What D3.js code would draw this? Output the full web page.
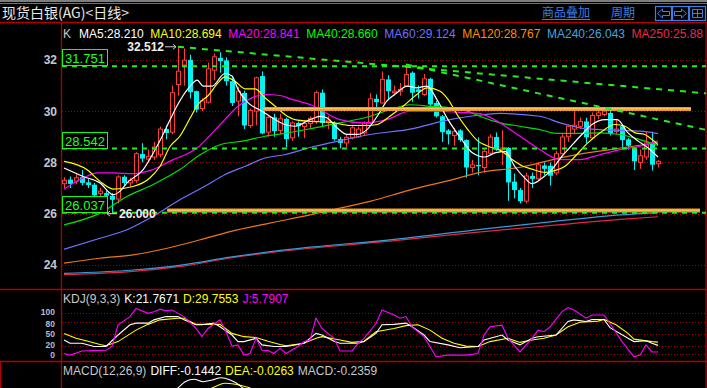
<!DOCTYPE html>
<html><head><meta charset="utf-8">
<script src="https://cdn.jsdelivr.net/npm/d3@7"></script>
<style>body{margin:0;background:#000;}svg{display:block;}</style>
</head><body><svg id="c" width="707" height="388"></svg>
<script>
// ---------- DATA ----------
const candleOpen = [27.17,27.33,27.27,27.42,27.22,27.13,26.78,26.8,26.7,26.57,
27.44,27.2,27.3,28.33,28.13,28.21,28.3,29.3,29.18,31.04,
31.8,32.0,30.78,30.1,30.35,31.6,32.08,31.98,31.17,30.39,
30.71,29.44,30.0,31.37,29.18,29.76,29.25,29.7,28.96,29.54,
29.4,29.52,29.6,30.72,29.55,29.54,28.91,28.76,28.96,29.0,
29.15,29.54,30.48,30.32,31.24,30.72,30.78,30.98,31.5,30.85,
30.65,31.26,30.32,29.8,29.25,29.05,29.25,28.87,27.8,27.9,
27.8,28.36,28.99,28.5,28.57,27.25,26.92,26.49,27.47,27.36,
27.88,27.87,27.59,28.34,29.0,29.3,29.41,29.6,28.96,29.83,
29.87,29.93,29.2,29.41,28.9,28.57,28.0,28.21,28.76,27.95];
const candleClose = [27.30,27.16,27.40,27.20,27.12,26.72,26.88,26.7,26.54,27.43,
27.2,27.3,28.34,28.15,28.24,28.6,29.3,29.15,30.72,31.56,
31.99,30.74,30.06,30.4,31.65,32.12,31.95,31.17,30.32,30.78,
29.44,30.03,31.3,29.13,29.76,29.22,29.7,28.91,29.54,29.41,
29.52,29.72,30.72,29.54,29.65,28.91,28.76,28.98,29.35,29.3,
29.54,30.48,30.35,31.24,30.78,30.78,30.85,31.43,30.72,30.75,
31.26,30.26,29.8,29.18,29.1,29.2,28.87,27.8,27.9,27.85,
28.43,28.99,28.5,28.56,27.22,26.92,26.49,27.47,27.36,27.9,
27.75,27.48,28.34,28.99,29.41,29.45,29.6,28.98,29.83,29.93,
30.0,29.13,29.3,28.87,28.65,28.04,28.26,28.76,27.91,28.04];
const candleHigh = [27.42,27.45,27.55,27.70,27.35,27.2,27.0,26.9,26.8,27.5,
27.5,27.4,28.4,28.75,28.5,28.8,29.4,29.45,31.0,32.512,
32.45,32.2,30.8,30.5,31.9,32.25,32.3,32.1,31.3,30.95,
30.8,30.1,31.35,31.55,29.85,29.9,29.9,29.75,29.6,29.6,
29.65,29.8,30.8,30.85,29.8,29.6,29.0,29.1,29.45,29.4,
29.6,30.7,30.65,31.55,31.4,31.0,31.1,31.76,31.55,31.0,
31.45,31.3,30.4,29.85,29.3,29.35,29.3,28.9,28.1,28.98,
28.5,29.1,29.17,29.25,28.6,27.57,27.0,27.6,27.6,28.0,
28.0,28.0,28.45,29.1,29.45,30.0,29.75,29.75,29.95,30.15,
30.05,30.0,29.7,29.45,28.95,28.6,28.5,29.2,29.2,28.1];
const candleLow = [27.0,27.0,27.15,27.1,27.0,26.65,26.65,26.55,26.0,26.4,
27.1,27.05,27.2,28.0,28.0,28.1,28.2,28.9,29.1,30.6,
31.0,30.5,29.95,30.0,30.3,31.2,31.5,31.0,30.2,29.8,
29.3,29.35,29.45,29.1,29.0,29.0,29.1,28.6,28.85,29.0,
28.95,29.3,29.5,29.4,29.3,28.85,28.55,28.6,28.9,28.95,
29.05,29.5,30.1,30.3,30.45,30.6,30.6,30.95,30.35,30.5,
30.6,30.2,29.75,28.8,28.7,28.65,28.8,27.4,27.6,27.5,
27.6,28.3,28.45,27.9,26.5,26.6,26.4,26.4,27.0,27.3,
27.5,27.1,27.5,28.3,28.8,29.1,29.3,28.75,28.9,29.7,
29.8,29.05,29.1,28.6,28.5,27.7,27.75,28.1,27.68,27.8];

// moving averages: [candle index, price]
const ma5 = [[0,27.78],[3.2,27.45],[6,27.2],[8.2,26.74],[9.3,26.87],[10.5,27.2],[13.2,27.72],[15.5,28.63],[17.7,29.67],[18.8,30.19],[21,30.97],[22.2,31.21],[23.2,30.98],[24.7,30.98],[26.8,31.47],[28,31.37],[29,30.85],[30.7,30.32],[33,30.0],[34.7,29.74],[36.8,29.48],[38.5,29.41],[41,29.67],[42.7,29.8],[43.8,29.74],[45.5,29.35],[47.2,29.09],[48.8,29.09],[50.5,29.28],[52.2,29.8],[53.8,30.39],[55.5,30.72],[57.2,30.98],[58.8,30.91],[60.5,30.98],[62.3,30.39],[64,29.67],[66.3,28.89],[68,28.39],[70.2,28.21],[71.8,28.37],[73.5,28.43],[75.2,27.82],[76.8,27.39],[78,27.17],[79.7,27.39],[81.3,27.72],[83,28.24],[84,28.5],[86.3,29.09],[88,29.48],[90.2,29.67],[92.2,29.67],[94,29.15],[95.7,28.83],[97.3,28.57],[99,28.21]];
const ma10 = [[0,28.04],[3.8,27.72],[6,27.26],[8.2,26.96],[11.5,27.06],[14.3,27.39],[16,27.85],[17.7,28.63],[19.3,29.02],[21,29.72],[22.3,30.26],[24,30.6],[25.7,31.11],[26.8,31.34],[28.5,31.17],[30.2,30.87],[31.8,30.87],[33.5,30.52],[35.2,30.19],[36.8,29.87],[38.5,29.67],[41.3,29.6],[44.3,29.57],[47.7,29.44],[50.5,29.44],[52.2,29.48],[54.3,29.8],[56.5,30.19],[58.8,30.65],[60.5,30.91],[62.7,30.78],[64,30.46],[65.7,29.8],[67.3,29.28],[69,28.83],[70.7,28.63],[73,28.43],[74.7,28.11],[76.3,27.87],[78,27.74],[80.2,27.61],[81.8,27.68],[83.5,27.85],[85.2,28.24],[87.3,28.76],[89.7,29.22],[91.8,29.48],[93.5,29.41],[95.2,29.15],[96.8,29.09],[98,28.89],[99,28.694]];
const ma20 = [[0,26.96],[3.2,27.39],[5.5,27.59],[8.2,27.59],[11.5,27.56],[14.8,27.72],[18.2,28.11],[20.2,28.3],[22.2,28.56],[23.5,28.85],[26.8,29.67],[29,30.19],[31.3,30.52],[33.5,30.65],[36,30.61],[38,30.46],[41,30.26],[46,29.67],[49.8,29.54],[53.8,29.67],[57.7,30.0],[61.5,30.0],[66,29.95],[69.3,29.9],[72.7,29.54],[76,29.02],[79.3,28.5],[82.7,28.11],[86,28.11],[89.3,28.3],[92.7,28.5],[96,28.63],[99,28.841]];
const ma40 = [[0,25.56],[6,26.02],[10.5,26.67],[14.8,27.13],[19.3,27.72],[22.7,28.3],[26,28.69],[29.7,28.83],[33.5,29.02],[36.8,29.13],[41.8,29.35],[46,29.54],[51,29.8],[54.3,30.06],[57.7,30.25],[61,30.19],[64.3,30.13],[67.7,29.96],[69.3,29.8],[72.7,29.54],[76,29.41],[79.3,29.28],[82.2,29.13],[86,29.13],[89.3,29.15],[92.7,29.09],[96,28.89],[99,28.66]];
const ma60 = [[0,24.61],[6,25.04],[10.5,25.37],[14.8,25.89],[19.3,26.54],[23.7,27.1],[26.8,27.52],[30.2,27.85],[33.5,28.17],[36.8,28.3],[41.8,28.63],[44.3,28.76],[51,29.09],[57.7,29.3],[64.3,29.67],[67.7,29.8],[72.7,29.91],[79.3,29.8],[82.7,29.54],[86,29.35],[89.3,29.28],[92.7,29.25],[96,29.22],[99,29.124]];
const ma120 = [[0,24.07],[6,24.26],[11.5,24.39],[17.2,24.65],[22.7,24.98],[27.7,25.3],[34.3,25.63],[41,25.95],[46,26.22],[51,26.48],[57.7,26.93],[64.3,27.3],[69,27.59],[76.3,27.82],[82.7,28.18],[91,28.5],[99,28.767]];
const ma240 = [[0,23.67],[11.5,23.8],[19.8,24.0],[27.7,24.3],[41,24.69],[54.3,24.98],[67.7,25.34],[81.8,25.7],[92.7,25.95],[99,26.043]];
const ma250 = [[0,23.62],[11.5,23.75],[19.8,23.95],[27.7,24.27],[41,24.65],[54.3,24.93],[67.7,25.25],[81.8,25.55],[92.7,25.78],[99,25.88]];

const maLabels = ["MA5:28.210","MA10:28.694","MA20:28.841","MA40:28.660","MA60:29.124","MA120:28.767","MA240:26.043","MA250:25.88"];
const priceTicks = [32,30,28,26,24];
const markedLevels = [31.751,28.542,26.037];
const bandLines = [[33.2,104.5,30.08],[17.2,106,26.12]];      // [from idx, to idx, price]
const trendLines = [[19,32.512,107.2,30.69],[57,31.82,107.2,29.26]]; // [idx0,p0,idx1,p1]
const highMark = [19,32.512], lowMark = [8,26.0];

// KDJ: [candle index, value]
const kdjK = [[0,35],[1,27],[3,27],[5,19],[7,19],[9,47],[11,72],[12,76],[14,76],[15,84],[17,92],[19,92],[20,84],[22,72],[23,72],[25,76],[26,67],[28,47],[29,31],[30,31],[32,39],[33,23],[35,19],[37,19],[39,24],[40,27],[42,51],[43,47],[45,32],[46,27],[49,27],[50,31],[52,51],[53,72],[55,73],[57,76],[58,67],[60,47],[61,31],[64,23],[66,16],[69,19],[70,35],[73,47],[74,35],[76,23],[78,39],[79,43],[82,47],[84,80],[85,84],[87,80],[88,85],[90,85],[91,65],[94,39],[95,31],[97,33],[98,27],[99,21.77]];
const kdjD = [[0,51],[2,39],[4,32],[6,24],[7,21],[9,31],[12,59],[14,73],[16,84],[19,88],[20,88],[22,73],[25,73],[26,73],[28,51],[30,43],[32,41],[34,32],[36,24],[37,21],[40,27],[42,39],[43,43],[46,35],[48,29],[50,32],[52,55],[55,63],[57,70],[59,72],[61,59],[63,39],[65,27],[67,20],[69,19],[71,31],[74,39],[76,29],[78,35],[80,39],[82,47],[84,67],[86,78],[89,81],[90,85],[92,72],[94,51],[95,37],[98,31],[99,29.76]];
const kdjJ = [[0,2],[1,-2],[3,8],[5,9],[7,10],[8,19],[9,72],[11,92],[12,112],[14,100],[15,104],[16,110],[17,106],[18,108],[20,92],[22,63],[23,43],[24,63],[26,84],[27,55],[28,20],[29,23],[30,-2],[31,2],[32,39],[33,10],[34,9],[35,2],[36,15],[37,2],[39,19],[40,31],[41,35],[42,88],[43,63],[45,39],[46,8],[48,8],[49,27],[50,39],[52,75],[53,108],[55,96],[56,88],[57,92],[58,67],[60,43],[61,19],[62,-6],[64,-2],[66,-2],[67,-2],[69,2],[70,47],[71,67],[73,71],[74,39],[76,6],[78,39],[79,59],[80,55],[81,67],[83,104],[84,114],[85,108],[87,88],[88,96],[90,96],[91,75],[93,31],[95,-6],[96,-2],[97,23],[98,6],[99,5.79]];
const kdjTicks = [100,80,50,20,0];

// MACD (only the tops of the curves are visible)
const macdDiff = [[17,0.2],[19,0.40],[20.2,0.526],[21.7,0.574],[23.2,0.526],[24.7,0.56],[26.2,0.606],[27.7,0.56],[29.2,0.46],[29.8,0.40],[32,0.2]];
const macdDea = [[22,0.2],[24.7,0.40],[25.8,0.46],[26.8,0.494],[28.3,0.48],[30.3,0.426],[31,0.40],[33,0.2]];

// ---------- DRAW ----------
const W = 707, H = 388;
const svg = d3.select('#c');
const red = '#b00000', dotRed = '#a00000';
const FONT = "'Liberation Sans', Arial, sans-serif";
const CJK = "'Noto Sans CJK SC', sans-serif";
svg.append('rect').attr('width', W).attr('height', H).attr('fill', '#000');

const x = d3.scaleLinear().domain([0, 99]).range([64, 658]);
const y = d3.scaleLinear().domain([24, 32]).range([264.9, 59.9]);
const yk = d3.scaleLinear().domain([0, 100]).range([354.3, 313.3]);
const ym = d3.scaleLinear().domain([0.4, 0.6]).range([388, 378]);

const defs = svg.append('defs');
defs.append('clipPath').attr('id', 'cp').append('rect').attr('x', 62).attr('y', 23).attr('width', 644).attr('height', 266);
defs.append('clipPath').attr('id', 'ck').append('rect').attr('x', 62).attr('y', 290).attr('width', 644).attr('height', 71);
defs.append('clipPath').attr('id', 'cm').append('rect').attr('x', 62).attr('y', 362).attr('width', 644).attr('height', 26);

// top bar
svg.append('line').attr('x1', 0).attr('x2', W).attr('y1', 1).attr('y2', 1).attr('stroke', '#a8a8a8').attr('stroke-width', 1.5);
svg.append('line').attr('x1', 0).attr('x2', W).attr('y1', 3.5).attr('y2', 3.5).attr('stroke', '#707070').attr('stroke-width', 1);
svg.append('text').attr('x', 2).attr('y', 18).attr('fill', '#e8e8e8').attr('font-family', CJK).attr('font-size', 14).text('现货白银(AG)<日线>');
const blue = '#3d7fe0';
[['商品叠加', 542, 590], ['周期', 611, 634]].forEach(([t, x0, x1]) => {
  svg.append('text').attr('x', x0).attr('y', 17).attr('fill', blue).attr('font-family', CJK).attr('font-size', 12).text(t);
  svg.append('line').attr('x1', x0).attr('x2', x1).attr('y1', 19.5).attr('y2', 19.5).attr('stroke', blue);
});
[655.5, 672.5, 689.5].forEach((bx, k) => {
  svg.append('rect').attr('x', bx).attr('y', 6.5).attr('width', 16).attr('height', 14).attr('fill', 'none').attr('stroke', blue).attr('stroke-width', 1.2);
  if (k === 0) svg.append('path').attr('d', `M${bx+2},13.5 L${bx+7},9 L${bx+7},11.5 L${bx+14},11.5 L${bx+14},15.5 L${bx+7},15.5 L${bx+7},18 Z`).attr('fill', 'none').attr('stroke', blue);
  if (k === 1) svg.append('path').attr('d', `M${bx+14},13.5 L${bx+9},9 L${bx+9},11.5 L${bx+2},11.5 L${bx+2},15.5 L${bx+9},15.5 L${bx+9},18 Z`).attr('fill', 'none').attr('stroke', blue);
  if (k === 2) svg.append('path').attr('d', `M${bx+3},9.5 H${bx+13} V17.5 H${bx+3} Z M${bx+3},13.5 H${bx+13} M${bx+8},9.5 V17.5`).attr('fill', 'none').attr('stroke', blue);
});

// frame
const frame = [[0, 22.5, W, 22.5], [0, 289.5, W, 289.5], [0, 361.5, W, 361.5], [61.5, 22.5, 61.5, H], [706, 22.5, 706, H], [0.5, 361.5, 0.5, H]];
frame.forEach(([a, b, c, d]) => svg.append('line').attr('x1', a).attr('y1', b).attr('x2', c).attr('y2', d).attr('stroke', red).attr('stroke-width', 1.3));

// price grid + labels
priceTicks.forEach(p => {
  svg.append('line').attr('x1', 62).attr('x2', 706).attr('y1', Math.round(y(p)) + 0.5).attr('y2', Math.round(y(p)) + 0.5)
    .attr('stroke', dotRed).attr('stroke-dasharray', '1,2');
  svg.append('text').attr('x', 57).attr('y', y(p) + 4.5).attr('text-anchor', 'end').attr('fill', '#c4c8d4')
    .attr('font-family', FONT).attr('font-weight', 'bold').attr('font-size', 12).text(p);
});

// candles
const pg = svg.append('g').attr('clip-path', 'url(#cp)');
const idx = d3.range(candleOpen.length);
const isUp = i => candleClose[i] >= candleOpen[i];
const upC = '#ff3c3c', dnC = '#00f4f4';
pg.selectAll('line.wick').data(idx).join('line').attr('class', 'wick')
  .attr('x1', i => Math.round(x(i)) + 0.5).attr('x2', i => Math.round(x(i)) + 0.5)
  .attr('y1', i => y(candleHigh[i])).attr('y2', i => y(candleLow[i]))
  .attr('stroke', i => isUp(i) ? upC : dnC).attr('stroke-width', 1);
pg.selectAll('rect.body').data(idx).join('rect').attr('class', 'body')
  .attr('x', i => Math.round(x(i)) - (isUp(i) ? 1.5 : 2))
  .attr('width', i => isUp(i) ? 4 : 5)
  .attr('y', i => y(Math.max(candleOpen[i], candleClose[i])))
  .attr('height', i => Math.max(1.2, Math.abs(y(candleOpen[i]) - y(candleClose[i]))))
  .attr('fill', i => isUp(i) ? '#000' : dnC)
  .attr('stroke', i => isUp(i) ? upC : 'none').attr('stroke-width', 1);

// MA lines
const maSeries = [[ma250, '#e0284a'], [ma240, '#3a9ad8'], [ma120, '#e8781c'], [ma60, '#7272ff'], [ma40, '#00e000'], [ma20, '#ff00ff'], [ma10, '#ffff00'], [ma5, '#ffffff']];
const lineP = d3.line().x(d => x(d[0])).y(d => y(d[1])).curve(d3.curveMonotoneX);
maSeries.forEach(([s, c]) => pg.append('path').attr('d', lineP(s)).attr('fill', 'none').attr('stroke', c).attr('stroke-width', 1.2));

// horizontal support bands
bandLines.forEach(([a, b, p]) => {
  pg.append('line').attr('x1', x(a)).attr('x2', x(b)).attr('y1', y(p)).attr('y2', y(p)).attr('stroke', '#e89a2c').attr('stroke-width', 4);
  pg.append('line').attr('x1', x(a)).attr('x2', x(b)).attr('y1', y(p) - 0.5).attr('y2', y(p) - 0.5).attr('stroke', '#ffc060').attr('stroke-width', 1.2);
});

// green dashed levels & trend lines
const gDash = '#22ee22';
markedLevels.forEach(p => pg.append('line').attr('x1', 62).attr('x2', 706).attr('y1', y(p)).attr('y2', y(p))
  .attr('stroke', gDash).attr('stroke-width', 2).attr('stroke-dasharray', '5,5'));
trendLines.forEach(([a, p0, b, p1]) => pg.append('line').attr('x1', x(a)).attr('y1', y(p0)).attr('x2', x(b)).attr('y2', y(p1))
  .attr('stroke', gDash).attr('stroke-width', 2).attr('stroke-dasharray', '6,6'));

// level boxes
markedLevels.forEach(p => {
  const yy = Math.round(y(p));
  svg.append('rect').attr('x', 62.5).attr('y', yy - 16.5).attr('width', 45).attr('height', 16).attr('fill', '#000').attr('stroke', '#10ff10').attr('stroke-width', 1);
  svg.append('text').attr('x', 85).attr('y', yy - 3.5).attr('text-anchor', 'middle').attr('fill', '#20ff20')
    .attr('font-family', FONT).attr('font-size', 13).text(p.toFixed(3));
});

// high / low markers
{
  const hx = x(highMark[0]) - 2, hy = y(highMark[1]);
  svg.append('text').attr('x', hx - 12).attr('y', hy + 4).attr('text-anchor', 'end').attr('fill', '#f0f0f0')
    .attr('font-family', FONT).attr('font-weight', 'bold').attr('font-size', 12).text(highMark[1].toFixed(3));
  svg.append('path').attr('d', `M${hx-11},${hy} H${hx} M${hx-3},${hy-2.5} L${hx},${hy} L${hx-3},${hy+2.5}`).attr('stroke', '#d0d0d0').attr('fill', 'none');
  const lx = x(lowMark[0]) - 5, ly = y(lowMark[1]);
  svg.append('path').attr('d', `M${lx},${ly} H${lx+10} M${lx+3},${ly-2.5} L${lx},${ly} L${lx+3},${ly+2.5}`).attr('stroke', '#d0d0d0').attr('fill', 'none');
  svg.append('text').attr('x', lx + 12).attr('y', ly + 4.5).attr('fill', '#f0f0f0')
    .attr('font-family', FONT).attr('font-weight', 'bold').attr('font-size', 12).text(lowMark[1].toFixed(3));
}

// MA header
{
  const t = svg.append('text').attr('y', 38).attr('font-family', FONT).attr('font-size', 12);
  const cols = ['#c8c8c8', '#ffffff', '#ffff00', '#ff00ff', '#00ff00', '#7070ff', '#ff8c00', '#40a4e4', '#e82a4c'];
  const items = ['K'].concat(maLabels);
  let cx = 63;
  items.forEach((s, k) => {
    const e = t.append('tspan').attr('x', cx).attr('fill', cols[k]).text(s);
    cx += e.node().getComputedTextLength() + (k === 0 ? 8 : 6.6);
  });
}

// KDJ pane
const kdjLabelShift = {100: 2.0, 80: 5.0, 50: 3.2, 20: 1.6, 0: 3.4};
kdjTicks.forEach(v => {
  svg.append('line').attr('x1', 62).attr('x2', 706).attr('y1', Math.round(yk(v)) + 0.5).attr('y2', Math.round(yk(v)) + 0.5)
    .attr('stroke', dotRed).attr('stroke-dasharray', '1,2');
  svg.append('text').attr('x', 55).attr('y', yk(v) + kdjLabelShift[v]).attr('text-anchor', 'end').attr('fill', '#b8bccc')
    .attr('font-family', FONT).attr('font-weight', 'bold').attr('font-size', 8.5).text(v);
});
const kg = svg.append('g').attr('clip-path', 'url(#ck)');
const lineK = d3.line().x(d => x(d[0])).y(d => yk(d[1]));
[[kdjD, '#ffff00'], [kdjK, '#ffffff'], [kdjJ, '#ff00ff']].forEach(([s, c]) =>
  kg.append('path').attr('d', lineK(s)).attr('fill', 'none').attr('stroke', c).attr('stroke-width', 1.1));
{
  const t = svg.append('text').attr('y', 303).attr('font-family', FONT).attr('font-size', 12);
  const parts = [['KDJ(9,3,3)', '#c8c8c8'], ['K:21.7671', '#ffffff'], ['D:29.7553', '#ffff00'], ['J:5.7907', '#ff00ff']];
  let cx = 63;
  parts.forEach(([s, c]) => { const e = t.append('tspan').attr('x', cx).attr('fill', c).text(s); cx += e.node().getComputedTextLength() + 4; });
}

// MACD pane
const mg = svg.append('g').attr('clip-path', 'url(#cm)');
const lineM = d3.line().x(d => x(d[0])).y(d => ym(d[1])).curve(d3.curveMonotoneX);
mg.append('path').attr('d', lineM(macdDea)).attr('fill', 'none').attr('stroke', '#ffff00').attr('stroke-width', 1.1);
mg.append('path').attr('d', lineM(macdDiff)).attr('fill', 'none').attr('stroke', '#ffffff').attr('stroke-width', 1.1);
{
  const t = svg.append('text').attr('y', 375).attr('font-family', FONT).attr('font-size', 12);
  const parts = [['MACD(12,26,9)', '#c8c8c8'], ['DIFF:-0.1442', '#ffffff'], ['DEA:-0.0263', '#ffff00'], ['MACD:-0.2359', '#c8c8c8']];
  let cx = 63;
  parts.forEach(([s, c]) => { const e = t.append('tspan').attr('x', cx).attr('fill', c).text(s); cx += e.node().getComputedTextLength() + 4; });
}
</script></body></html>
